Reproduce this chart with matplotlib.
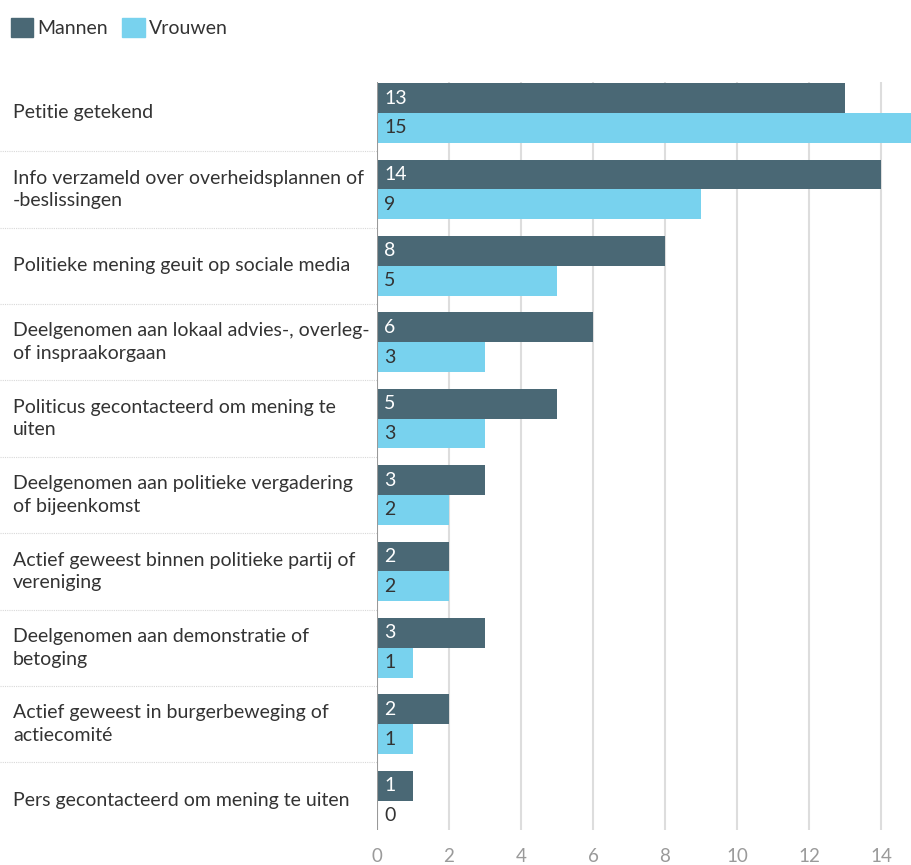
import numpy as np
import matplotlib.pyplot as plt
from matplotlib.patches import Patch

plt.rcParams['font.family'] = ['Lato', 'DejaVu Sans']

categories = [
    "Petitie getekend",
    "Info verzameld over overheidsplannen of\n-beslissingen",
    "Politieke mening geuit op sociale media",
    "Deelgenomen aan lokaal advies-, overleg-\nof inspraakorgaan",
    "Politicus gecontacteerd om mening te\nuiten",
    "Deelgenomen aan politieke vergadering\nof bijeenkomst",
    "Actief geweest binnen politieke partij of\nvereniging",
    "Deelgenomen aan demonstratie of\nbetoging",
    "Actief geweest in burgerbeweging of\nactiecomité",
    "Pers gecontacteerd om mening te uiten",
]
mannen = [13, 14, 8, 6, 5, 3, 2, 3, 2, 1]
vrouwen = [15, 9, 5, 3, 3, 2, 2, 1, 1, 0]
series_names = ["Mannen", "Vrouwen"]

DARK = "#4a6875"
LIGHT = "#78d2ee"
TEXT = "#333333"

W, H = 912, 865
fig = plt.figure(figsize=(W / 100, H / 100), dpi=100)
left, right, top, bottom = 377, 912, 82, 830
ax = fig.add_axes([left / W, 1 - bottom / H, (right - left) / W, (bottom - top) / H])

y = np.arange(len(categories))
h = 0.39
ax.barh(y - h / 2, mannen, height=h, color=DARK, zorder=3)
ax.barh(y + h / 2, vrouwen, height=h, color=LIGHT, zorder=3)

for i, (m, v) in enumerate(zip(mannen, vrouwen)):
    ax.text(0.2, i - h / 2, str(m), color="white", fontsize=14, va="center", ha="left", zorder=4)
    ax.text(0.2, i + h / 2, str(v), color=TEXT, fontsize=14, va="center", ha="left", zorder=4)

ax.set_xlim(0, (right - left) / 36)
ax.set_ylim(len(categories) - 1 + 0.385, -0.405)
ax.set_xticks(range(0, 15, 2))
ax.set_yticks([])
ax.tick_params(axis="x", length=0, pad=13, labelsize=13.5, labelcolor="#9a9a9a")
for s in ax.spines.values():
    s.set_visible(False)
ax.axvline(0, color="#999999", lw=1.5, zorder=5)
for xv in range(2, 15, 2):
    ax.axvline(xv, color="#dddddd", lw=1.5, zorder=1)

# dotted separators between categories, across the whole figure width
for i in range(len(categories) - 1):
    yy = top + (i + 0.5 + 0.405) / (len(categories) - 1 + 0.385 + 0.405) * (bottom - top)
    fig.add_artist(plt.Line2D([0, 1], [1 - yy / H, 1 - yy / H], color="#d8d8d8",
                              lw=0.8, ls=(0, (1, 1)), zorder=0))

for i, lab in enumerate(categories):
    ax.text(-(left - 13) / 36, i, lab, fontsize=14, color=TEXT, va="center", ha="left",
            linespacing=1.4, clip_on=False)

handles = [Patch(color=DARK), Patch(color=LIGHT)]
fig.legend(handles, series_names, loc="upper left", bbox_to_anchor=(11 / W, 1 - 18 / H),
           frameon=False, fontsize=14, handlelength=1.15, handleheight=1.15,
           handletextpad=0.2, columnspacing=0.75, ncol=2, labelcolor=TEXT,
           borderaxespad=0, borderpad=0)

fig.savefig("out.png", dpi=100)
